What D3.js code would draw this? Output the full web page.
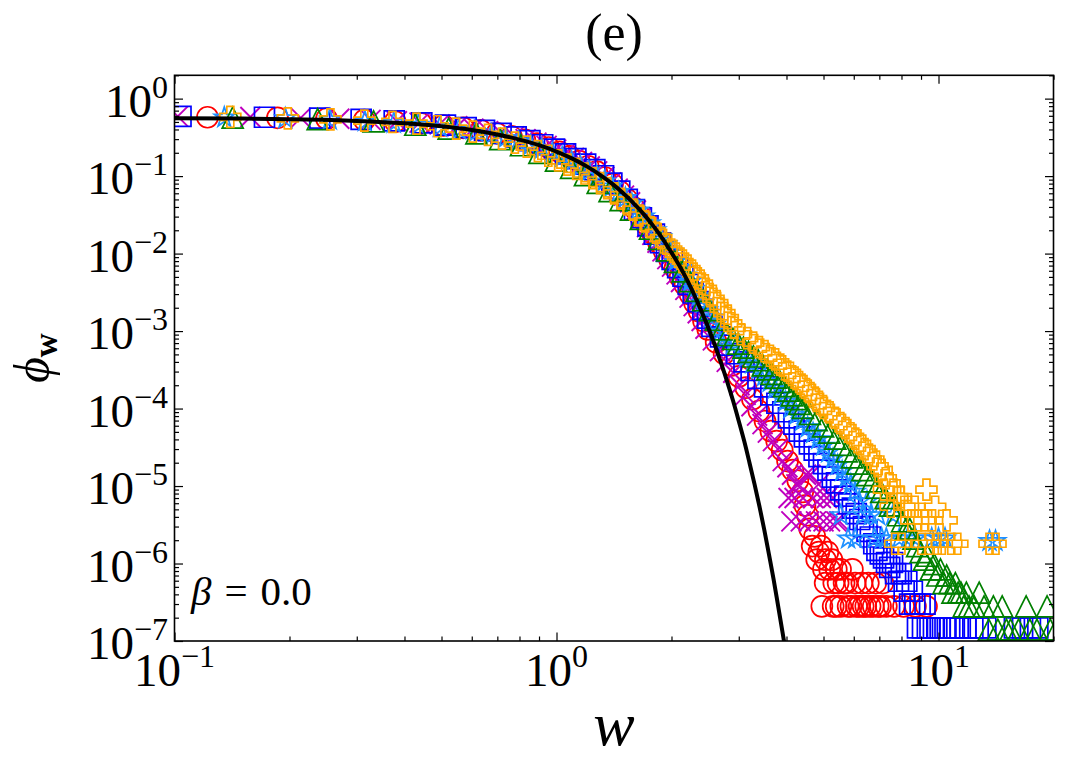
<!DOCTYPE html>
<html>
<head>
<meta charset="utf-8">
<script src="https://cdn.jsdelivr.net/npm/d3@7"></script>
<style>
  html, body { margin: 0; padding: 0; background: #fff; }
  svg { display: block; }
  svg text { font-family: "Liberation Serif", "DejaVu Serif", serif; }
</style>
</head>
<body>
<svg id="chart" width="1068" height="768"></svg>
<script>
const xTickExps = [-1, 0, 1]
const yTickExps = [-7, -6, -5, -4, -3, -2, -1, 0]
const betaLabel = '0.0'

// black reference curve
const theory = [[0.1,0.558],[0.15,0.552],[0.2,0.542],[0.3,0.516],[0.4,0.48],[0.5,0.439],[0.6,0.394],[0.7,0.345],[0.8,0.296],[0.9,0.251],[1.0,0.2075],[1.1,0.168],[1.2,0.1335],[1.3,0.104],[1.4,0.0794],[1.5,0.0593],[1.6,0.0436],[1.7,0.0314],[1.8,0.0221],[1.9,0.0153],[2.0,0.0103],[2.1,0.0069],[2.2,0.0045],[2.3,0.00285],[2.4,0.00177],[2.5,0.00109],[2.6,6.5e-4],[2.7,3.8e-4],[2.8,2.2e-4],[2.9,1.25e-4],[3.0,6.9e-5],[3.1,3.8e-5],[3.2,2.0e-5],[3.3,1.05e-5],[3.4,5.4e-6],[3.5,2.7e-6],[3.6,1.3e-6],[3.7,6.3e-7],[3.8,2.9e-7],[3.9,1.35e-7],[4.0,6.4e-8]]

const redCircles = [[0.122,0.575],[0.186,0.565],[0.250,0.55],[0.314,0.53],[0.378,0.505],[0.442,0.48],[0.506,0.45],[0.570,0.42],[0.634,0.39],[0.698,0.357],[0.762,0.325],[0.826,0.294],[0.890,0.263],[0.954,0.234],[1.018,0.206],[1.082,0.18],[1.146,0.156],[1.210,0.134],[1.274,0.114],[1.338,0.096],[1.402,0.079],[1.466,0.063],[1.530,0.050],[1.594,0.039],[1.658,0.030],[1.722,0.0234],[1.786,0.0182],[1.850,0.0138],[1.914,0.0107],[1.978,0.0083],[2.042,0.0065],[2.106,0.0050],[2.170,0.0039],[2.234,0.0030],[2.298,0.0023],[2.362,0.0018],[2.426,0.00135],[2.490,0.00105],[2.618,7.2e-4],[2.746,5.1e-4],[2.874,3.6e-4],[3.002,2.6e-4],[3.130,1.86e-4],[3.258,1.32e-4],[3.386,9.3e-5],[3.514,6.9e-5],[3.642,5.1e-5],[3.770,3.8e-5],[3.898,2.9e-5],[4.026,2.1e-5],[4.154,1.6e-5],[4.282,1.17e-5],[4.41,8.4e-6],[4.47,5.6e-6],[4.54,4.2e-6],[4.60,2.8e-6],[4.67,1.68e-6],[4.74,2.24e-6],[4.80,1.12e-6],[4.86,1.4e-6],[4.93,1.68e-6],[5.00,8.4e-7],[5.06,1.12e-6],[5.13,1.4e-6],[5.19,8.4e-7],[5.26,1.12e-6],[5.32,5.6e-7],[5.40,8.4e-7],[5.46,5.6e-7],[5.54,8.4e-7],[5.66,5.6e-7],[4.95,2.8e-7],[5.05,5.6e-7],[5.30,2.8e-7],[5.40,2.8e-7],[5.55,2.8e-7],[5.75,5.6e-7],[5.80,2.8e-7],[5.90,2.8e-7],[5.95,8.4e-7],[6.05,5.6e-7],[6.10,2.8e-7],[6.20,2.8e-7],[6.30,5.6e-7],[6.35,2.8e-7],[6.45,2.8e-7],[6.55,5.6e-7],[6.62,2.8e-7],[6.75,2.8e-7],[6.85,5.6e-7],[6.95,2.8e-7],[7.05,2.8e-7],[7.15,5.6e-7],[7.30,2.8e-7],[7.65,2.8e-7],[8.10,2.8e-7],[8.70,2.8e-7],[9.30,2.8e-7]]

const magentaCrosses = [[0.102,0.59],[0.158,0.58],[0.214,0.565],[0.270,0.55],[0.326,0.533],[0.382,0.51],[0.438,0.49],[0.494,0.465],[0.550,0.44],[0.606,0.41],[0.662,0.38],[0.718,0.355],[0.774,0.325],[0.830,0.30],[0.886,0.27],[0.942,0.245],[0.998,0.22],[1.054,0.195],[1.110,0.172],[1.166,0.152],[1.222,0.133],[1.278,0.115],[1.334,0.098],[1.390,0.083],[1.446,0.069],[1.502,0.056],[1.558,0.046],[1.614,0.036],[1.670,0.029],[1.726,0.022],[1.782,0.0174],[1.838,0.0138],[1.894,0.0107],[1.950,0.0085],[2.006,0.0068],[2.062,0.0054],[2.118,0.0043],[2.174,0.0034],[2.230,0.0027],[2.286,0.0021],[2.342,0.0017],[2.398,0.00135],[2.454,0.00107],[2.566,7.6e-4],[2.678,5.5e-4],[2.790,4.0e-4],[2.902,2.9e-4],[3.014,2.0e-4],[3.126,1.5e-4],[3.238,1.07e-4],[3.350,8.1e-5],[3.462,6.3e-5],[3.574,4.9e-5],[3.686,3.8e-5],[3.798,3.0e-5],[3.910,2.1e-5],[4.022,1.75e-5],[4.134,1.4e-5],[4.246,1.05e-5],[4.05,7e-6],[4.12,3.5e-6],[4.20,7e-6],[4.30,1.05e-5],[4.36,3.5e-6],[4.42,7e-6],[4.50,1.4e-5],[4.58,3.5e-6],[4.62,1.4e-5],[4.70,7e-6],[4.78,3.5e-6],[4.85,1.05e-5],[4.92,7e-6],[5.00,3.5e-6],[5.10,7e-6],[5.20,3.5e-6],[5.30,7e-6],[5.40,3.5e-6],[5.50,3.5e-6]]

const blueSquares = [[0.104,0.59],[0.172,0.575],[0.240,0.56],[0.308,0.54],[0.376,0.515],[0.444,0.486],[0.512,0.455],[0.580,0.423],[0.648,0.39],[0.716,0.355],[0.784,0.32],[0.852,0.287],[0.920,0.254],[0.988,0.223],[1.056,0.194],[1.124,0.168],[1.192,0.143],[1.260,0.121],[1.328,0.101],[1.396,0.081],[1.464,0.064],[1.532,0.050],[1.600,0.037],[1.668,0.029],[1.736,0.0228],[1.804,0.0178],[1.872,0.0138],[1.940,0.0107],[2.008,0.0084],[2.076,0.0066],[2.144,0.0051],[2.212,0.0040],[2.280,0.0031],[2.348,0.0024],[2.416,0.0019],[2.484,0.00147],[2.552,0.00115],[2.688,8.4e-4],[2.824,6.6e-4],[2.960,5.1e-4],[3.096,4.0e-4],[3.232,3.1e-4],[3.368,2.45e-4],[3.504,1.9e-4],[3.640,1.5e-4],[3.776,1.17e-4],[3.912,9.1e-5],[4.048,7.6e-5],[4.184,6.3e-5],[4.320,5.1e-5],[4.456,4.3e-5],[4.592,3.5e-5],[4.728,2.9e-5],[4.864,2.4e-5],[5.000,1.95e-5],[5.136,1.6e-5],[5.272,1.3e-5],[5.408,1.1e-5],[5.544,8.9e-6],[5.68,7.4e-6],[5.82,5.9e-6],[5.95,5.2e-6],[6.09,4.4e-6],[6.22,3.7e-6],[6.36,3.0e-6],[6.50,2.6e-6],[6.63,2.2e-6],[6.77,1.8e-6],[6.90,1.48e-6],[7.04,1.33e-6],[7.18,1.18e-6],[7.31,1.03e-6],[7.45,8.9e-7],[7.58,1.03e-6],[7.72,7.4e-7],[7.86,5.9e-7],[7.99,7.4e-7],[8.13,4.4e-7],[8.26,5.9e-7],[8.40,3.0e-7],[8.54,4.4e-7],[8.67,3.0e-7],[8.81,1.48e-7],[8.95,3.0e-7],[9.08,1.48e-7],[9.22,3.0e-7],[9.35,1.48e-7],[9.50,1.48e-7],[9.70,1.48e-7],[9.90,1.48e-7],[10.1,1.48e-7],[10.4,1.48e-7],[10.7,1.48e-7],[11.0,1.48e-7],[11.4,1.48e-7],[11.8,1.48e-7],[12.3,1.48e-7],[12.7,1.48e-7],[13.3,1.48e-7],[15.8,1.48e-7],[16.6,1.48e-7],[17.4,1.48e-7],[18.2,1.48e-7]]

const skyStars = [[0.135,0.57],[0.195,0.555],[0.255,0.535],[0.315,0.51],[0.375,0.485],[0.435,0.46],[0.495,0.43],[0.555,0.40],[0.615,0.37],[0.675,0.34],[0.735,0.31],[0.795,0.28],[0.855,0.25],[0.915,0.224],[0.975,0.198],[1.035,0.175],[1.095,0.153],[1.155,0.133],[1.215,0.115],[1.275,0.099],[1.335,0.085],[1.395,0.073],[1.455,0.062],[1.515,0.052],[1.575,0.044],[1.635,0.036],[1.695,0.030],[1.755,0.0245],[1.815,0.020],[1.875,0.0163],[1.935,0.0133],[1.995,0.0106],[2.055,0.0080],[2.115,0.0065],[2.175,0.0052],[2.235,0.0043],[2.295,0.0035],[2.355,0.0028],[2.415,0.0023],[2.475,0.00186],[2.535,0.0015],[2.595,0.0012],[2.655,9.8e-4],[2.775,8.2e-4],[2.895,6.7e-4],[3.015,5.6e-4],[3.135,4.6e-4],[3.255,3.8e-4],[3.375,3.2e-4],[3.495,2.6e-4],[3.615,2.2e-4],[3.735,1.8e-4],[3.855,1.48e-4],[3.975,1.23e-4],[4.095,1.0e-4],[4.245,8.3e-5],[4.395,6.9e-5],[4.545,5.7e-5],[4.695,4.8e-5],[4.845,4.0e-5],[4.995,3.3e-5],[5.145,2.7e-5],[5.295,2.24e-5],[5.445,1.86e-5],[5.595,1.55e-5],[5.745,1.29e-5],[5.895,1.05e-5],[6.045,8.4e-6],[6.20,6.3e-6],[6.35,4.2e-6],[6.50,6.3e-6],[6.65,4.2e-6],[6.80,2.1e-6],[6.95,4.2e-6],[7.10,2.1e-6],[7.30,2.1e-6],[7.60,4.2e-6],[7.90,2.1e-6],[8.30,2.1e-6],[8.70,2.1e-6],[9.60,2.1e-6],[10.0,2.1e-6],[10.4,2.1e-6],[13.6,1.95e-6],[14.1,1.95e-6],[5.55,4.2e-6],[5.80,2.1e-6],[6.05,2.1e-6]]

const greenTriangles = [[0.142,0.57],[0.237,0.545],[0.332,0.51],[0.427,0.46],[0.522,0.41],[0.617,0.355],[0.712,0.30],[0.807,0.25],[0.902,0.20],[0.997,0.158],[1.092,0.128],[1.187,0.103],[1.282,0.082],[1.377,0.064],[1.472,0.049],[1.567,0.037],[1.662,0.028],[1.757,0.021],[1.852,0.0155],[1.947,0.011],[2.042,0.0078],[2.137,0.0059],[2.232,0.0044],[2.327,0.0033],[2.422,0.0025],[2.517,0.00186],[2.612,0.0014],[2.707,0.00105],[2.802,8.9e-4],[2.897,7.9e-4],[2.992,6.9e-4],[3.087,6.1e-4],[3.182,5.4e-4],[3.277,4.7e-4],[3.372,4.2e-4],[3.467,3.6e-4],[3.562,3.2e-4],[3.657,2.8e-4],[3.752,2.5e-4],[3.847,2.2e-4],[3.942,1.95e-4],[4.037,1.7e-4],[4.132,1.48e-4],[4.227,1.32e-4],[4.322,1.15e-4],[4.417,1.02e-4],[4.607,8.5e-5],[4.797,7.1e-5],[4.987,5.9e-5],[5.177,4.9e-5],[5.367,4.1e-5],[5.557,3.4e-5],[5.747,2.8e-5],[5.937,2.35e-5],[6.127,1.95e-5],[6.317,1.6e-5],[6.507,1.38e-5],[6.697,1.15e-5],[6.887,9.5e-6],[7.08,8.4e-6],[7.27,7e-6],[7.46,5.6e-6],[7.65,5.6e-6],[7.84,4.2e-6],[8.03,3.5e-6],[8.22,2.8e-6],[8.41,2.8e-6],[8.60,2.1e-6],[8.79,1.68e-6],[8.98,1.4e-6],[9.17,1.12e-6],[9.36,1.26e-6],[9.55,8.4e-7],[9.74,9.8e-7],[9.93,7e-7],[10.12,8.4e-7],[10.31,5.6e-7],[10.50,7e-7],[10.69,5.6e-7],[10.88,4.2e-7],[11.07,5.6e-7],[11.26,4.2e-7],[11.45,4.2e-7],[11.64,2.8e-7],[11.83,4.2e-7],[12.02,2.8e-7],[12.40,2.8e-7],[12.78,4.2e-7],[13.16,2.8e-7],[13.54,1.4e-7],[13.92,2.8e-7],[14.30,1.4e-7],[14.68,2.8e-7],[15.06,1.4e-7],[15.44,1.4e-7],[16.20,1.4e-7],[16.96,2.8e-7],[17.34,1.4e-7],[18.10,1.4e-7],[19.24,2.8e-7],[19.62,1.4e-7],[20.3,1.4e-7]]

const orangePluses = [[0.140,0.58],[0.198,0.555],[0.256,0.54],[0.314,0.52],[0.372,0.50],[0.430,0.475],[0.488,0.44],[0.546,0.41],[0.604,0.375],[0.662,0.34],[0.720,0.305],[0.778,0.27],[0.836,0.24],[0.894,0.21],[0.952,0.183],[1.010,0.16],[1.068,0.141],[1.126,0.124],[1.184,0.108],[1.242,0.094],[1.300,0.081],[1.358,0.070],[1.416,0.060],[1.474,0.051],[1.532,0.043],[1.590,0.037],[1.648,0.031],[1.706,0.026],[1.764,0.022],[1.822,0.0185],[1.880,0.0158],[1.938,0.0134],[1.996,0.0113],[2.054,0.0100],[2.112,0.0086],[2.170,0.0074],[2.228,0.0063],[2.286,0.0055],[2.344,0.0048],[2.402,0.0041],[2.460,0.0035],[2.518,0.0030],[2.576,0.0026],[2.634,0.0023],[2.692,0.00195],[2.750,0.0017],[2.808,0.00147],[2.866,0.00126],[2.924,0.0011],[3.040,9.1e-4],[3.156,8.1e-4],[3.272,7.1e-4],[3.388,6.2e-4],[3.504,5.5e-4],[3.620,4.8e-4],[3.736,4.3e-4],[3.852,3.7e-4],[3.968,3.2e-4],[4.084,2.9e-4],[4.200,2.5e-4],[4.316,2.2e-4],[4.432,1.95e-4],[4.548,1.7e-4],[4.664,1.5e-4],[4.780,1.32e-4],[4.896,1.15e-4],[5.012,1.02e-4],[5.186,8.9e-5],[5.360,7.6e-5],[5.534,6.5e-5],[5.708,5.6e-5],[5.882,4.8e-5],[6.056,4.1e-5],[6.230,3.5e-5],[6.404,3.0e-5],[6.578,2.55e-5],[6.752,2.2e-5],[6.926,1.8e-5],[7.100,1.62e-5],[7.274,1.26e-5],[7.448,1.08e-5],[7.622,9e-6],[7.796,7.2e-6],[7.970,7.2e-6],[8.14,5.4e-6],[8.32,5.4e-6],[8.49,3.6e-6],[8.66,5.4e-6],[8.84,3.6e-6],[9.01,1.8e-6],[9.18,3.6e-6],[9.30,9e-6],[9.45,1.8e-6],[9.62,3.6e-6],[9.80,5.4e-6],[9.95,1.8e-6],[10.2,1.8e-6],[10.5,3.6e-6],[10.8,1.8e-6],[11.2,1.8e-6],[7.2,9e-6],[7.5,5.4e-6],[7.7,1.8e-6],[8.0,1.8e-6],[13.6,1.8e-6],[14.1,1.8e-6]]

const svg = d3.select('#chart')
const plot = { left: 174.5, right: 1053.5, top: 75.3, bottom: 641 }

const x = d3.scaleLog().domain([0.1, 20]).range([plot.left, plot.right])
const y = d3.scaleLog().domain([1e-7, 2]).range([plot.bottom, plot.top])

// marker shapes, roughly matplotlib sized (~21px)
const M = 21
const shapes = {
  circle: d3.symbol(d3.symbolCircle, Math.PI * (M / 2) ** 2)(),
  square: d3.symbol(d3.symbolSquare, 400)(),
  star: d3.symbol(d3.symbolStar, (M / 2) ** 2 / 0.8908130915292852)(),
  plus: d3.symbol(d3.symbolCross, 245)(),
  times: 'M-10,-10L10,10M-10,10L10,-10',
  triangle: `M0,${-M / 2}L${-M / 2},${M / 2}L${M / 2},${M / 2}Z`,
}

const series = [
  { points: redCircles, color: '#ff0000', shape: 'circle', width: 1.7 },
  { points: magentaCrosses, color: '#bf00bf', shape: 'times', width: 1.9 },
  { points: blueSquares, color: '#0000ff', shape: 'square', width: 1.7 },
  { points: skyStars, color: '#1e90ff', shape: 'star', width: 1.7 },
  { points: greenTriangles, color: '#008000', shape: 'triangle', width: 1.7 },
  { points: orangePluses, color: '#ffa500', shape: 'plus', width: 1.7 },
]

svg.append('defs').append('clipPath').attr('id', 'plot-clip')
  .append('rect')
  .attr('x', plot.left).attr('y', plot.top)
  .attr('width', plot.right - plot.left).attr('height', plot.bottom - plot.top)

const marks = svg.append('g').attr('clip-path', 'url(#plot-clip)')

for (const s of series) {
  marks.append('g')
    .selectAll('path')
    .data(s.points)
    .join('path')
    .attr('d', shapes[s.shape])
    .attr('transform', (d) => `translate(${x(d[0])},${y(d[1])})`)
    .attr('fill', 'none')
    .attr('stroke', s.color)
    .attr('stroke-width', s.width)
}

const line = d3.line().x((d) => x(d[0])).y((d) => y(d[1])).curve(d3.curveMonotoneX)
marks.append('path')
  .datum(theory)
  .attr('d', line)
  .attr('fill', 'none')
  .attr('stroke', '#000')
  .attr('stroke-width', 4)

// ticks: inward on all four sides
const xMajor = xTickExps.map((e) => 10 ** e)
const yMajor = yTickExps.map((e) => 10 ** e)
const isMajor = (majors) => (t) => majors.some((m) => Math.abs(t - m) / m < 1e-9)
const xMinor = x.ticks().filter((t) => !isMajor(xMajor)(t))
const yMinor = y.ticks().filter((t) => !isMajor(yMajor)(t))

function tickRow(axisFn, scale, values, size, transform) {
  svg.append('g')
    .attr('transform', transform)
    .call(axisFn(scale).tickValues(values).tickSize(size).tickFormat(''))
    .call((g) => g.select('.domain').remove())
    .call((g) => g.selectAll('line').attr('stroke-width', 1.2))
}

for (const [vals, len] of [[xMajor, -8.5], [xMinor, -4.5]]) {
  tickRow(d3.axisBottom, x, vals, len, `translate(0,${plot.bottom})`)
  tickRow(d3.axisTop, x, vals, len, `translate(0,${plot.top})`)
}
for (const [vals, len] of [[yMajor, -8.5], [yMinor, -4.5]]) {
  tickRow(d3.axisLeft, y, vals, len, `translate(${plot.left},0)`)
  tickRow(d3.axisRight, y, vals, len, `translate(${plot.right},0)`)
}

svg.append('rect')
  .attr('x', plot.left).attr('y', plot.top)
  .attr('width', plot.right - plot.left).attr('height', plot.bottom - plot.top)
  .attr('fill', 'none').attr('stroke', '#000').attr('stroke-width', 1.6)

function powerLabel(px, py, exp, anchor) {
  const t = svg.append('text').attr('x', px).attr('y', py).attr('text-anchor', anchor)
  t.append('tspan').attr('font-size', 47).text('10')
  t.append('tspan').attr('font-size', 32).attr('dy', -19)
    .text(exp < 0 ? '\u2212' + -exp : String(exp))
}

for (const e of xTickExps) powerLabel(x(10 ** e), 686, e, 'middle')
for (const e of yTickExps) powerLabel(168, y(10 ** e) + 18, e, 'end')

svg.append('text')
  .attr('x', (plot.left + plot.right) / 2).attr('y', 50)
  .attr('text-anchor', 'middle').attr('font-size', 52)
  .text('(e)')

svg.append('text')
  .attr('x', (plot.left + plot.right) / 2).attr('y', 745)
  .attr('text-anchor', 'middle').attr('font-size', 62).attr('font-style', 'italic')
  .text('w')

const yLab = svg.append('text')
  .attr('transform', `translate(49,${(plot.top + plot.bottom) / 2}) rotate(-90)`)
  .attr('text-anchor', 'middle')
yLab.append('tspan').attr('font-size', 50).attr('font-style', 'italic').text('\u03D5')
yLab.append('tspan').attr('font-size', 33).attr('font-weight', 'bold').attr('dy', 8).text('w')

const beta = svg.append('text').attr('x', 191).attr('y', 605).attr('font-size', 41)
beta.append('tspan').attr('font-style', 'italic').text('\u03B2')
beta.append('tspan').attr('dx', 13).text('=')
beta.append('tspan').attr('dx', 13).text(betaLabel)
</script>
</body>
</html>
